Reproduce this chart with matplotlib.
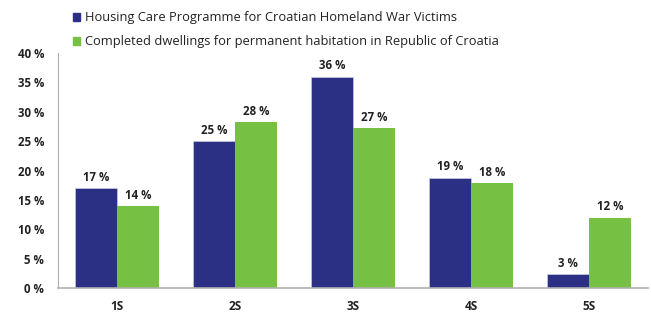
import numpy as np
import matplotlib
matplotlib.use("Agg")
import matplotlib.pyplot as plt

categories = ["1S", "2S", "3S", "4S", "5S"]
housing_care = [17.0, 25.0, 36.0, 18.8, 2.4]
completed = [14.0, 28.2, 27.2, 17.9, 12.0]
housing_labels = ["17 %", "25 %", "36 %", "19 %", "3 %"]
completed_labels = ["14 %", "28 %", "27 %", "18 %", "12 %"]
series_names = ["Housing Care Programme for Croatian Homeland War Victims",
                "Completed dwellings for permanent habitation in Republic of Croatia"]

blue = "#2b3085"
green = "#76c043"

plt.rcParams["font.family"] = ["Open Sans", "DejaVu Sans"]

fig = plt.figure(figsize=(6.51, 3.12), dpi=100)
ax = fig.add_axes([58 / 651, 24 / 312, 590 / 651, 235 / 312])

x = np.arange(len(categories))
w = 0.36
b1 = ax.bar(x - w / 2, housing_care, w, color=blue, edgecolor="#c8cbe0", linewidth=0.5)
b2 = ax.bar(x + w / 2, completed, w, color=green)

for rect, lab in zip(b1, housing_labels):
    ax.text(rect.get_x() + rect.get_width() / 2, rect.get_height() + 0.7, lab,
            ha="center", va="bottom", fontsize=8.3, fontweight="bold", color="#222222")
for rect, lab in zip(b2, completed_labels):
    ax.text(rect.get_x() + rect.get_width() / 2, rect.get_height() + 0.7, lab,
            ha="center", va="bottom", fontsize=8.3, fontweight="bold", color="#222222")

ax.set_xlim(-0.5, 4.5)
ax.set_ylim(0, 40)
ax.set_yticks(range(0, 41, 5))
ax.set_yticklabels([f"{t} %" for t in range(0, 41, 5)], fontsize=8.3, fontweight="bold", color="#222222")
ax.set_xticks(x)
ax.set_xticklabels(categories, fontsize=8.5, fontweight="bold", color="#222222")
ax.tick_params(length=0)
ax.tick_params(axis="y", pad=10)
ax.tick_params(axis="x", pad=9)

for s in ["top", "right"]:
    ax.spines[s].set_visible(False)
ax.spines["left"].set_color("#b0b0b0")
ax.spines["bottom"].set_color("#b0b0b0")
ax.spines["bottom"].set_linewidth(1.2)

# legend
for i, (name, col) in enumerate(zip(series_names, [blue, green])):
    yy = 1 - (17 + i * 24) / 312
    fig.patches.append(plt.Rectangle((73 / 651, yy - 3.5 / 312), 7 / 651, 7 / 312,
                                     transform=fig.transFigure, color=col))
    fig.text(85 / 651, yy, name, fontsize=9.3, va="center", ha="left", color="#222222")

fig.savefig("out.png", dpi=100)
